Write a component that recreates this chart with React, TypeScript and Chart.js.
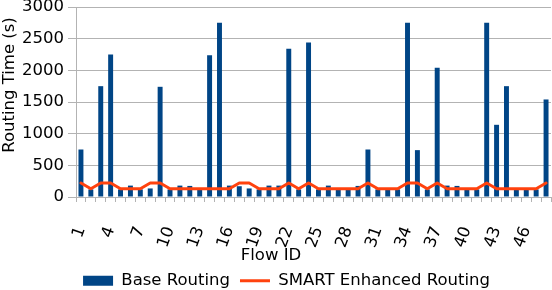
import { useEffect, useRef } from 'react';
import { Chart, registerables } from 'chart.js';

Chart.register(...registerables);

const flowIds = [
  '1', '2', '3', '4', '5', '6', '7', '8', '9', '10', '11', '12',
  '13', '14', '15', '16', '17', '18', '19', '20', '21', '22', '23', '24',
  '25', '26', '27', '28', '29', '30', '31', '32', '33', '34', '35', '36',
  '37', '38', '39', '40', '41', '42', '43', '44', '45', '46', '47', '48',
];

const baseRouting = [
  750, 120, 1750, 2250, 120, 180, 120, 135, 1740, 120, 180, 175,
  120, 2240, 2750, 180, 170, 135, 120, 180, 180, 2340, 120, 2440,
  120, 180, 120, 120, 175, 750, 120, 120, 120, 2750, 740, 120,
  2040, 180, 175, 120, 120, 2750, 1140, 1750, 120, 120, 120, 1540,
];

const smartRouting = [
  220, 130, 220, 220, 130, 130, 130, 220, 220, 130, 130, 130,
  130, 130, 130, 130, 220, 220, 130, 130, 130, 220, 130, 220,
  130, 130, 130, 130, 130, 220, 130, 130, 130, 220, 220, 130,
  220, 130, 130, 130, 130, 220, 130, 130, 130, 130, 130, 220,
];

const yMin = 0;
const yMax = 3000;
const yStep = 500;

const seriesNames = ['Base Routing', 'SMART Enhanced Routing'];
const xTitle = 'Flow ID';
const yTitle = 'Routing Time (s)';

const FONT = '"DejaVu Sans", sans-serif';
const FONT_SIZE = 16.5;
const BLUE = '#004586';
const ORANGE = '#ff420e';
const GRID = '#b3b3b3';

const axisTitles = {
  id: 'axisTitles',
  afterDraw(chart: any) {
    const ctx = chart.ctx;
    ctx.save();
    ctx.fillStyle = '#000';
    ctx.font = `${FONT_SIZE}px ${FONT}`;
    ctx.textAlign = 'center';
    ctx.textBaseline = 'alphabetic';
    ctx.save();
    ctx.translate(14, 85);
    ctx.rotate(-Math.PI / 2);
    ctx.fillText(yTitle, 0, 0);
    ctx.restore();
    ctx.fillText(xTitle, 271, 260);
    ctx.restore();
  },
};

export default function App() {
  const ref = useRef<HTMLCanvasElement | null>(null);

  useEffect(() => {
    if (!ref.current) return;
    Chart.defaults.font.family = FONT;
    Chart.defaults.font.size = FONT_SIZE;
    Chart.defaults.color = '#000';

    const chart = new Chart(ref.current, {
      type: 'bar',
      data: {
        labels: flowIds,
        datasets: [
          {
            type: 'bar',
            label: seriesNames[0],
            data: baseRouting,
            backgroundColor: BLUE,
            borderWidth: 0,
            barPercentage: 0.5,
            categoryPercentage: 1,
            order: 1,
          } as any,
          {
            type: 'line',
            label: seriesNames[1],
            data: smartRouting,
            borderColor: ORANGE,
            backgroundColor: ORANGE,
            borderWidth: 3,
            pointRadius: 0,
            pointHoverRadius: 0,
            borderJoinStyle: 'round',
            borderCapStyle: 'round',
            tension: 0,
            order: 0,
          } as any,
        ],
      },
      options: {
        animation: false,
        responsive: true,
        maintainAspectRatio: false,
        layout: { padding: { left: 22, right: 1, top: 0, bottom: -9 } },
        plugins: {
          tooltip: { enabled: false },
          title: { display: false },
          legend: {
            position: 'bottom',
            labels: {
              usePointStyle: true,
              pointStyleWidth: 30,
              boxHeight: 10,
              padding: 10,
              color: '#000',
              font: { family: FONT, size: FONT_SIZE },
              sort: (a: any, b: any) => a.datasetIndex - b.datasetIndex,
              generateLabels: (c: any) => {
                const items = (Chart.defaults.plugins.legend.labels as any).generateLabels(c);
                return items.map((it: any) =>
                  it.datasetIndex === 0
                    ? { ...it, pointStyle: 'rect', lineWidth: 0, fillStyle: BLUE }
                    : { ...it, pointStyle: 'line', lineWidth: 3, strokeStyle: ORANGE }
                );
              },
            },
          },
        },
        scales: {
          x: {
            offset: true,
            grid: {
              offset: true,
              drawOnChartArea: false,
              drawTicks: true,
              tickLength: 5,
              color: GRID,
            },
            border: { color: GRID },
            ticks: {
              autoSkip: false,
              minRotation: 70,
              maxRotation: 70,
              padding: 22,
              color: '#000',
              font: { family: FONT, size: FONT_SIZE },
              callback: (_v: any, i: number) => (i % 3 === 0 ? flowIds[i] : ''),
            },
            afterFit: (s: any) => {
              s.height = 65.5;
              s.paddingLeft = 0;
              s.paddingRight = 0;
            },
          },
          y: {
            min: yMin,
            max: yMax,
            ticks: {
              stepSize: yStep,
              padding: 4,
              color: '#000',
              font: { family: FONT, size: FONT_SIZE },
              callback: (v: any) => String(v),
            },
            grid: { color: GRID, tickLength: 8 },
            border: { color: GRID },
            afterFit: (s: any) => {
              s.width = 54;
              s.paddingTop = 7;
            },
          },
        },
      },
      plugins: [axisTitles],
    } as any);

    return () => chart.destroy();
  }, []);

  return (
    <div style={{ position: 'fixed', left: 0, top: 0, width: 552, height: 290 }}>
      <canvas ref={ref} />
    </div>
  );
}
